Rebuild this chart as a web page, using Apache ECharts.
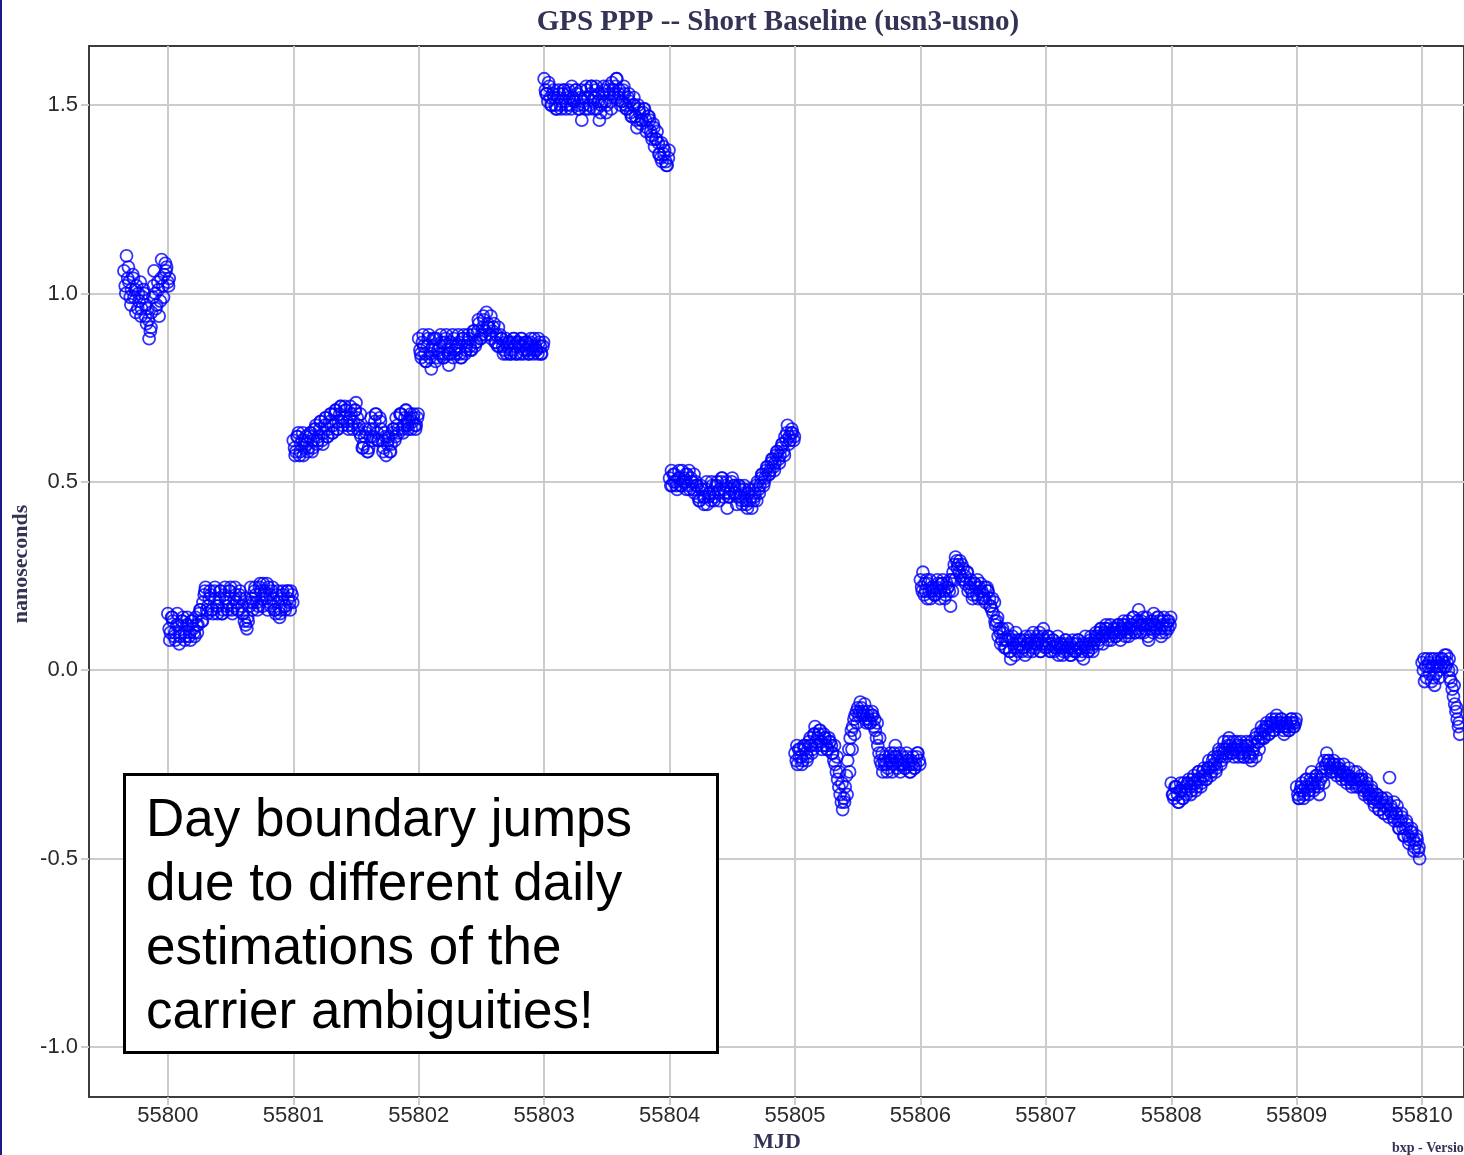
<!DOCTYPE html>
<html>
<head>
<meta charset="utf-8">
<script src="https://cdn.jsdelivr.net/npm/echarts@6/dist/echarts.min.js"></script>
<style>
html, body { margin: 0; padding: 0; background: #fff; }
#main { width: 1464px; height: 1155px; }
</style>
</head>
<body>
<div id="main"></div>
<script>
// sampling of the clock solution, days (later passes are shifted inside a step)
var sampleStep = 0.02;
var passOffset = [0, 0.01, 0.015];

// tick positions
var xTicks = [55800, 55801, 55802, 55803, 55804, 55805, 55806, 55807, 55808, 55809, 55810];
var yTicks = [-1.0, -0.5, 0.0, 0.5, 1.0, 1.5];

// first epoch of each daily solution
var segStart = [55799.65, 55800.0, 55801.0, 55802.0, 55803.0, 55804.0, 55805.0, 55806.0, 55808.0, 55809.0, 55810.0];

// values (ns), one array per daily solution
var day55799 = [1.06, 1.10, 1.03, 1.01, 0.99, 1.02, 0.98, 0.96, 1.00, 0.92, 0.88, 0.95, 1.06, 0.97, 0.94, 1.09, 1.05, 1.07, 1.04];
var day55800 = [0.15, 0.10, 0.13, 0.08, 0.12, 0.10, 0.14, 0.09, 0.12, 0.08, 0.11, 0.14, 0.12, 0.16, 0.18, 0.22, 0.17, 0.20, 0.15, 0.19,
	0.17, 0.21, 0.16, 0.19, 0.18, 0.22, 0.17, 0.20, 0.16, 0.19, 0.15, 0.12, 0.13, 0.22, 0.18, 0.20, 0.17, 0.21, 0.23, 0.19,
	0.22, 0.17, 0.19, 0.15, 0.18, 0.16, 0.20, 0.17, 0.19, 0.21];
var day55801 = [0.61, 0.58, 0.63, 0.60, 0.57, 0.62, 0.59, 0.63, 0.61, 0.65, 0.62, 0.66, 0.63, 0.67, 0.64, 0.68, 0.65, 0.69, 0.66, 0.70,
	0.67, 0.69, 0.64, 0.68, 0.66, 0.71, 0.65, 0.62, 0.60, 0.63, 0.59, 0.67, 0.62, 0.68, 0.61, 0.64, 0.59, 0.57, 0.62, 0.60,
	0.64, 0.67, 0.63, 0.68, 0.65, 0.69, 0.66, 0.64, 0.68, 0.65];
var day55802 = [0.88, 0.83, 0.86, 0.82, 0.89, 0.80, 0.85, 0.88, 0.84, 0.87, 0.83, 0.89, 0.81, 0.86, 0.88, 0.84, 0.87, 0.83, 0.89, 0.86,
	0.88, 0.85, 0.90, 0.87, 0.92, 0.89, 0.93, 0.95, 0.91, 0.88, 0.92, 0.89, 0.86, 0.88, 0.85, 0.84, 0.87, 0.85, 0.88, 0.84,
	0.86, 0.88, 0.85, 0.87, 0.84, 0.86, 0.88, 0.85, 0.87, 0.84];
var day55803 = [1.57, 1.53, 1.55, 1.50, 1.52, 1.49, 1.53, 1.51, 1.54, 1.50, 1.52, 1.55, 1.51, 1.53, 1.49, 1.46, 1.52, 1.54, 1.50, 1.55,
	1.52, 1.49, 1.46, 1.51, 1.54, 1.50, 1.53, 1.56, 1.52, 1.57, 1.54, 1.51, 1.53, 1.49, 1.51, 1.47, 1.50, 1.44, 1.48, 1.46,
	1.49, 1.44, 1.46, 1.41, 1.39, 1.43, 1.37, 1.35, 1.38, 1.34];
var day55804 = [0.51, 0.49, 0.52, 0.48, 0.51, 0.53, 0.50, 0.52, 0.48, 0.50, 0.47, 0.49, 0.45, 0.48, 0.46, 0.44, 0.47, 0.49, 0.46, 0.50,
	0.48, 0.51, 0.47, 0.43, 0.46, 0.51, 0.49, 0.46, 0.48, 0.44, 0.47, 0.43, 0.45, 0.48, 0.47, 0.50, 0.49, 0.52, 0.51, 0.54,
	0.53, 0.56, 0.55, 0.58, 0.57, 0.60, 0.62, 0.65, 0.61, 0.63];
var day55805 = [-0.22, -0.25, -0.21, -0.24, -0.20, -0.23, -0.18, -0.21, -0.15, -0.18, -0.16, -0.20, -0.18, -0.21, -0.19, -0.22, -0.25, -0.29, -0.33, -0.37,
	-0.31, -0.24, -0.18, -0.15, -0.12, -0.10, -0.085, -0.11, -0.13, -0.11, -0.14, -0.12, -0.16, -0.20, -0.24, -0.27, -0.23, -0.26, -0.22, -0.25,
	-0.20, -0.24, -0.27, -0.23, -0.26, -0.24, -0.27, -0.23, -0.25, -0.22];
var day55806 = [0.24, 0.26, 0.21, 0.23, 0.19, 0.22, 0.20, 0.23, 0.21, 0.24, 0.20, 0.22, 0.17, 0.26, 0.30, 0.28, 0.25, 0.27, 0.23, 0.21,
	0.24, 0.20, 0.22, 0.19, 0.23, 0.20, 0.18, 0.21, 0.17, 0.15, 0.12, 0.09, 0.07, 0.10, 0.06, 0.09, 0.03, 0.07, 0.10, 0.05,
	0.08, 0.06, 0.09, 0.05, 0.07, 0.10, 0.06, 0.08, 0.05, 0.11, 0.07, 0.09, 0.05, 0.08, 0.06, 0.04, 0.07, 0.05, 0.08, 0.06,
	0.04, 0.07, 0.05, 0.08, 0.06, 0.03, 0.07, 0.05, 0.09, 0.07, 0.10, 0.08, 0.11, 0.09, 0.12, 0.10, 0.08, 0.11, 0.09, 0.12,
	0.10, 0.13, 0.11, 0.09, 0.12, 0.14, 0.11, 0.16, 0.13, 0.10, 0.14, 0.08, 0.12, 0.15, 0.11, 0.13, 0.09, 0.14, 0.12, 0.13];
var day55808 = [-0.30, -0.34, -0.31, -0.35, -0.32, -0.30, -0.33, -0.29, -0.32, -0.28, -0.31, -0.27, -0.30, -0.26, -0.29, -0.24, -0.27, -0.23, -0.26, -0.21,
	-0.24, -0.19, -0.22, -0.18, -0.21, -0.23, -0.19, -0.22, -0.20, -0.23, -0.19, -0.22, -0.24, -0.20, -0.17, -0.21, -0.15, -0.18, -0.14, -0.17,
	-0.13, -0.16, -0.12, -0.15, -0.13, -0.17, -0.14, -0.16, -0.13, -0.15];
var day55809 = [-0.31, -0.34, -0.30, -0.33, -0.29, -0.32, -0.27, -0.31, -0.28, -0.33, -0.26, -0.24, -0.22, -0.25, -0.27, -0.25, -0.28, -0.26, -0.29, -0.27,
	-0.30, -0.28, -0.31, -0.29, -0.27, -0.31, -0.29, -0.33, -0.30, -0.34, -0.32, -0.36, -0.33, -0.37, -0.34, -0.38, -0.35, -0.285, -0.37, -0.40,
	-0.36, -0.42, -0.39, -0.44, -0.41, -0.45, -0.43, -0.47, -0.45, -0.50];
var day55810 = [0.02, -0.03, 0.03, -0.01, 0.01, -0.04, 0.02, 0.00, 0.03, 0.04, 0.02, -0.02, -0.05, -0.09, -0.13, -0.17];

// second pass
var day55799b = [1.02, 1.04, 0.99, 1.05, 1.01, 0.96, 1.03, 0.99, 0.94, 0.96, 0.90, 0.99, 1.00, 1.03, 0.98, 1.02, 1.08, 1.03];
var day55800b = [0.11, 0.14, 0.09, 0.12, 0.07, 0.13, 0.10, 0.12, 0.09, 0.13, 0.10, 0.12, 0.15, 0.13, 0.20, 0.16, 0.19, 0.16, 0.21, 0.17,
	0.19, 0.15, 0.20, 0.17, 0.21, 0.16, 0.19, 0.18, 0.20, 0.17, 0.13, 0.11, 0.17, 0.19, 0.21, 0.18, 0.22, 0.19, 0.21, 0.23,
	0.18, 0.21, 0.16, 0.20, 0.14, 0.19, 0.17, 0.21, 0.18, 0.20];
var day55801b = [0.59, 0.62, 0.57, 0.61, 0.59, 0.60, 0.62, 0.58, 0.64, 0.60, 0.64, 0.61, 0.65, 0.62, 0.66, 0.63, 0.68, 0.64, 0.68, 0.66,
	0.70, 0.66, 0.67, 0.65, 0.69, 0.67, 0.63, 0.59, 0.62, 0.58, 0.64, 0.61, 0.66, 0.63, 0.67, 0.61, 0.63, 0.60, 0.58, 0.63,
	0.61, 0.65, 0.68, 0.64, 0.67, 0.65, 0.67, 0.66, 0.65, 0.67];
var day55802b = [0.85, 0.87, 0.84, 0.86, 0.83, 0.86, 0.88, 0.83, 0.86, 0.84, 0.87, 0.85, 0.84, 0.89, 0.85, 0.86, 0.84, 0.88, 0.84, 0.87,
	0.86, 0.89, 0.86, 0.90, 0.88, 0.91, 0.90, 0.92, 0.89, 0.90, 0.87, 0.86, 0.89, 0.86, 0.87, 0.86, 0.84, 0.87, 0.86, 0.87,
	0.84, 0.86, 0.87, 0.85, 0.87, 0.85, 0.86, 0.84, 0.86, 0.86];
var day55803b = [1.54, 1.51, 1.52, 1.53, 1.50, 1.52, 1.50, 1.53, 1.51, 1.53, 1.50, 1.52, 1.54, 1.50, 1.52, 1.51, 1.49, 1.52, 1.53, 1.51,
	1.54, 1.51, 1.48, 1.53, 1.51, 1.55, 1.51, 1.54, 1.55, 1.52, 1.50, 1.54, 1.50, 1.52, 1.48, 1.50, 1.47, 1.50, 1.45, 1.48,
	1.46, 1.47, 1.43, 1.45, 1.41, 1.40, 1.36, 1.39, 1.35, 1.36];
var day55804b = [0.49, 0.52, 0.50, 0.51, 0.49, 0.50, 0.52, 0.49, 0.51, 0.48, 0.50, 0.46, 0.49, 0.46, 0.48, 0.46, 0.45, 0.47, 0.49, 0.47,
	0.50, 0.46, 0.49, 0.46, 0.48, 0.49, 0.47, 0.49, 0.46, 0.48, 0.45, 0.47, 0.46, 0.45, 0.49, 0.48, 0.51, 0.49, 0.53, 0.52,
	0.55, 0.54, 0.57, 0.56, 0.59, 0.58, 0.61, 0.60, 0.63, 0.61];
var day55805b = [-0.24, -0.21, -0.23, -0.20, -0.22, -0.19, -0.20, -0.17, -0.19, -0.17, -0.19, -0.17, -0.20, -0.18, -0.20, -0.24, -0.27, -0.31, -0.35, -0.34,
	-0.28, -0.21, -0.16, -0.13, -0.11, -0.12, -0.10, -0.12, -0.14, -0.13, -0.12, -0.15, -0.18, -0.22, -0.25, -0.24, -0.25, -0.23, -0.24, -0.22,
	-0.23, -0.25, -0.24, -0.25, -0.22, -0.25, -0.24, -0.26, -0.23, -0.24];
var day55806b = [0.22, 0.20, 0.24, 0.21, 0.22, 0.20, 0.22, 0.21, 0.23, 0.21, 0.23, 0.21, 0.24, 0.28, 0.29, 0.26, 0.28, 0.24, 0.26, 0.22,
	0.21, 0.23, 0.20, 0.22, 0.21, 0.19, 0.22, 0.19, 0.16, 0.18, 0.13, 0.11, 0.08, 0.06, 0.08, 0.05, 0.08, 0.06, 0.08, 0.07,
	0.05, 0.08, 0.07, 0.08, 0.06, 0.08, 0.07, 0.10, 0.07, 0.08, 0.06, 0.07, 0.07, 0.05, 0.07, 0.06, 0.06, 0.07, 0.05, 0.07,
	0.06, 0.05, 0.07, 0.06, 0.05, 0.06, 0.06, 0.07, 0.06, 0.08, 0.09, 0.10, 0.09, 0.10, 0.11, 0.09, 0.10, 0.10, 0.11, 0.10,
	0.11, 0.12, 0.10, 0.11, 0.12, 0.10, 0.13, 0.12, 0.12, 0.11, 0.12, 0.11, 0.13, 0.12, 0.14, 0.11, 0.12, 0.11, 0.13, 0.12];
var day55808b = [-0.33, -0.31, -0.33, -0.32, -0.34, -0.31, -0.30, -0.31, -0.29, -0.30, -0.29, -0.29, -0.27, -0.28, -0.26, -0.26, -0.24, -0.25, -0.23, -0.23,
	-0.21, -0.21, -0.20, -0.20, -0.22, -0.21, -0.20, -0.21, -0.22, -0.21, -0.20, -0.23, -0.22, -0.18, -0.19, -0.17, -0.16, -0.16, -0.15, -0.15,
	-0.14, -0.14, -0.14, -0.14, -0.15, -0.15, -0.15, -0.14, -0.14, -0.14];
var day55809b = [-0.33, -0.32, -0.32, -0.31, -0.31, -0.29, -0.30, -0.29, -0.31, -0.29, -0.28, -0.26, -0.24, -0.26, -0.25, -0.26, -0.26, -0.27, -0.27, -0.28,
	-0.28, -0.29, -0.29, -0.30, -0.29, -0.29, -0.31, -0.31, -0.32, -0.33, -0.34, -0.34, -0.35, -0.35, -0.36, -0.36, -0.37, -0.36, -0.39, -0.38,
	-0.40, -0.40, -0.42, -0.42, -0.44, -0.43, -0.45, -0.46, -0.48];
var day55810b = [0.00, 0.01, 0.01, 0.03, -0.02, -0.01, 0.03, 0.01, 0.02, 0.01, 0.00, -0.03, -0.07, -0.11, -0.15];

// third pass
var day55799c = [1.00, 1.07, 0.97, 1.04, 0.95, 1.00, 0.94, 1.01, 0.97, 0.93, 0.91, 1.02, 0.96, 1.01, 1.04, 0.99, 1.06, 1.02];
var day55800c = [0.08, 0.14, 0.10, 0.15, 0.09, 0.13, 0.08, 0.14, 0.10, 0.13, 0.09, 0.10, 0.16, 0.13, 0.21, 0.15, 0.21, 0.16, 0.22, 0.15,
	0.21, 0.15, 0.22, 0.16, 0.21, 0.15, 0.22, 0.16, 0.21, 0.15, 0.19, 0.14, 0.18, 0.16, 0.22, 0.16, 0.23, 0.17, 0.20, 0.16,
	0.20, 0.22, 0.16, 0.21, 0.15, 0.21, 0.16, 0.21, 0.16, 0.18];
var day55801c = [0.57, 0.62, 0.58, 0.63, 0.61, 0.58, 0.63, 0.59, 0.64, 0.61, 0.66, 0.60, 0.67, 0.62, 0.68, 0.63, 0.69, 0.64, 0.70, 0.65,
	0.69, 0.65, 0.70, 0.64, 0.69, 0.64, 0.68, 0.59, 0.64, 0.58, 0.62, 0.64, 0.68, 0.61, 0.66, 0.58, 0.62, 0.61, 0.58, 0.64,
	0.62, 0.64, 0.68, 0.63, 0.69, 0.64, 0.68, 0.67, 0.64, 0.68];
var day55802c = [0.84, 0.89, 0.82, 0.88, 0.84, 0.88, 0.82, 0.85, 0.89, 0.83, 0.88, 0.84, 0.87, 0.83, 0.85, 0.89, 0.83, 0.88, 0.85, 0.89,
	0.85, 0.90, 0.87, 0.93, 0.88, 0.94, 0.89, 0.91, 0.94, 0.91, 0.87, 0.91, 0.88, 0.84, 0.88, 0.87, 0.84, 0.88, 0.84, 0.87,
	0.88, 0.84, 0.87, 0.84, 0.88, 0.84, 0.85, 0.88, 0.84, 0.87];
var day55803c = [1.53, 1.56, 1.50, 1.54, 1.49, 1.54, 1.49, 1.54, 1.49, 1.54, 1.49, 1.51, 1.54, 1.49, 1.54, 1.50, 1.55, 1.49, 1.55, 1.49,
	1.55, 1.53, 1.50, 1.55, 1.48, 1.54, 1.49, 1.53, 1.57, 1.53, 1.51, 1.55, 1.49, 1.53, 1.47, 1.52, 1.46, 1.49, 1.46, 1.49,
	1.43, 1.47, 1.42, 1.44, 1.41, 1.37, 1.40, 1.37, 1.34, 1.38];
var day55804c = [0.53, 0.50, 0.49, 0.53, 0.49, 0.51, 0.48, 0.53, 0.50, 0.52, 0.49, 0.45, 0.48, 0.44, 0.50, 0.47, 0.50, 0.45, 0.49, 0.45,
	0.51, 0.48, 0.50, 0.47, 0.50, 0.47, 0.44, 0.49, 0.45, 0.49, 0.44, 0.48, 0.43, 0.46, 0.45, 0.47, 0.52, 0.50, 0.54, 0.52,
	0.56, 0.53, 0.58, 0.55, 0.60, 0.57, 0.63, 0.62, 0.64, 0.62];
var day55805c = [-0.20, -0.23, -0.25, -0.21, -0.24, -0.20, -0.22, -0.17, -0.20, -0.16, -0.21, -0.18, -0.21, -0.19, -0.22, -0.20, -0.23, -0.27, -0.30, -0.35,
	-0.33, -0.27, -0.21, -0.17, -0.14, -0.11, -0.12, -0.09, -0.12, -0.14, -0.11, -0.13, -0.14, -0.18, -0.22, -0.25, -0.27, -0.24, -0.27, -0.23,
	-0.26, -0.22, -0.25, -0.26, -0.23, -0.27, -0.25, -0.26, -0.22, -0.25];
var day55806c = [0.21, 0.23, 0.19, 0.24, 0.21, 0.20, 0.24, 0.19, 0.23, 0.19, 0.22, 0.24, 0.21, 0.24, 0.27, 0.29, 0.24, 0.25, 0.26, 0.23,
	0.19, 0.23, 0.24, 0.21, 0.19, 0.22, 0.21, 0.17, 0.19, 0.13, 0.14, 0.10, 0.11, 0.08, 0.11, 0.05, 0.09, 0.04, 0.06, 0.08,
	0.06, 0.04, 0.07, 0.09, 0.05, 0.07, 0.09, 0.05, 0.09, 0.06, 0.09, 0.05, 0.08, 0.06, 0.09, 0.07, 0.04, 0.08, 0.06, 0.04,
	0.08, 0.05, 0.08, 0.04, 0.07, 0.09, 0.05, 0.08, 0.05, 0.09, 0.07, 0.11, 0.07, 0.11, 0.08, 0.12, 0.10, 0.09, 0.12, 0.08,
	0.12, 0.09, 0.13, 0.10, 0.14, 0.10, 0.13, 0.10, 0.14, 0.12, 0.09, 0.13, 0.10, 0.12, 0.14, 0.10, 0.13, 0.10, 0.11, 0.14];
var day55808c = [-0.33, -0.31, -0.35, -0.30, -0.34, -0.32, -0.30, -0.33, -0.30, -0.32, -0.27, -0.31, -0.28, -0.29, -0.26, -0.28, -0.25, -0.27, -0.22, -0.25,
	-0.22, -0.23, -0.19, -0.22, -0.19, -0.21, -0.23, -0.19, -0.23, -0.20, -0.23, -0.19, -0.21, -0.23, -0.19, -0.18, -0.18, -0.15, -0.17, -0.14,
	-0.16, -0.13, -0.15, -0.13, -0.16, -0.14, -0.16, -0.13, -0.15, -0.13];
var day55809c = [-0.34, -0.31, -0.34, -0.29, -0.33, -0.30, -0.32, -0.28, -0.30, -0.27, -0.30, -0.25, -0.24, -0.27, -0.24, -0.27, -0.25, -0.28, -0.25, -0.29,
	-0.26, -0.30, -0.27, -0.31, -0.29, -0.28, -0.32, -0.29, -0.33, -0.31, -0.35, -0.33, -0.37, -0.34, -0.38, -0.34, -0.39, -0.38, -0.35, -0.38,
	-0.42, -0.38, -0.44, -0.40, -0.46, -0.42, -0.48, -0.44, -0.47];
var day55810c = [0.03, -0.02, 0.02, -0.03, 0.03, 0.01, -0.02, 0.03, 0.01, 0.04, 0.03, 0.00, -0.04, -0.10, -0.14];

var passes = [
	[day55799, day55800, day55801, day55802, day55803, day55804, day55805, day55806, day55808, day55809, day55810],
	[day55799b, day55800b, day55801b, day55802b, day55803b, day55804b, day55805b, day55806b, day55808b, day55809b, day55810b],
	[day55799c, day55800c, day55801c, day55802c, day55803c, day55804c, day55805c, day55806c, day55808c, day55809c, day55810c]
];

var points = [];
for (var p = 0; p < passes.length; p++) {
	for (var s = 0; s < passes[p].length; s++) {
		var vals = passes[p][s];
		for (var i = 0; i < vals.length; i++) {
			points.push([segStart[s] + passOffset[p] + i * sampleStep, vals[i]]);
		}
	}
}

var myChart = echarts.init(document.getElementById('main'));
var titleColor = '#333355';
var gridGray = '#cccccc';
var frameColor = '#3c3c3c';

option = {
	animation : false,
	backgroundColor : '#ffffff',
	grid : {
		left : 89,
		top : 46,
		right : -2,
		bottom : 58,
		show : true,
		borderColor : frameColor,
		borderWidth : 2
	},
	xAxis : {
		type : 'value',
		min : 55799.371,
		max : 55810.334,
		axisLine : { show : true, onZero : false, lineStyle : { color : frameColor, width : 2 } },
		axisTick : { show : true, length : 8, customValues : xTicks, lineStyle : { color : gridGray, width : 2 } },
		axisLabel : {
			customValues : xTicks,
			margin : 8,
			fontFamily : 'Liberation Sans',
			fontSize : 22,
			color : '#2a2a2a',
			formatter : function(v) { return String(Math.round(v)); }
		},
		splitLine : { show : true, lineStyle : { color : gridGray, width : 2 } }
	},
	yAxis : {
		type : 'value',
		min : -1.133,
		max : 1.657,
		axisLine : { show : true, onZero : false, lineStyle : { color : frameColor, width : 2 } },
		axisTick : { show : true, length : 8, customValues : yTicks, lineStyle : { color : gridGray, width : 2 } },
		axisLabel : {
			customValues : yTicks,
			margin : 11,
			fontFamily : 'Liberation Sans',
			fontSize : 22,
			color : '#2a2a2a',
			formatter : function(v) { return v.toFixed(1); }
		},
		splitLine : { show : true, lineStyle : { color : gridGray, width : 2 } }
	},
	series : [ {
		type : 'scatter',
		symbol : 'circle',
		symbolSize : 12,
		silent : true,
		itemStyle : { color : 'rgba(0,0,0,0)', borderColor : '#0000ff', borderWidth : 1.8 },
		data : points
	} ],
	graphic : [ {
		type : 'text',
		style : { x : 778, y : 23, text : 'GPS PPP -- Short Baseline (usn3-usno)', align : 'center', verticalAlign : 'middle',
			font : 'bold 29px "Liberation Serif"', fill : titleColor }
	}, {
		type : 'text',
		rotation : Math.PI / 2,
		x : 21,
		y : 564,
		style : { x : 0, y : 0, text : 'nanoseconds', align : 'center', verticalAlign : 'middle',
			font : 'bold 22px "Liberation Serif"', fill : titleColor }
	}, {
		type : 'text',
		style : { x : 777, y : 1142, text : 'MJD', align : 'center', verticalAlign : 'middle',
			font : 'bold 22px "Liberation Serif"', fill : titleColor }
	}, {
		type : 'text',
		style : { x : 1392, y : 1148, text : 'bxp - Version', align : 'left', verticalAlign : 'middle',
			font : 'bold 14px "Liberation Serif"', fill : titleColor }
	}, {
		type : 'line',
		shape : { x1 : 1, y1 : 0, x2 : 1, y2 : 1155 },
		style : { stroke : '#1a1a8c', lineWidth : 2 }
	}, {
		type : 'rect',
		shape : { x : 124.5, y : 774.5, width : 593, height : 278 },
		style : { fill : '#ffffff', stroke : '#000000', lineWidth : 3 },
		z : 100
	}, {
		type : 'text',
		z : 101,
		style : { x : 146, y : 789, text : 'Day boundary jumps\ndue to different daily\nestimations of the\ncarrier ambiguities!',
			align : 'left', verticalAlign : 'top', lineHeight : 64,
			font : '53px "Liberation Sans"', fill : '#000000' }
	} ]
};

myChart.setOption(option);
</script>
</body>
</html>
